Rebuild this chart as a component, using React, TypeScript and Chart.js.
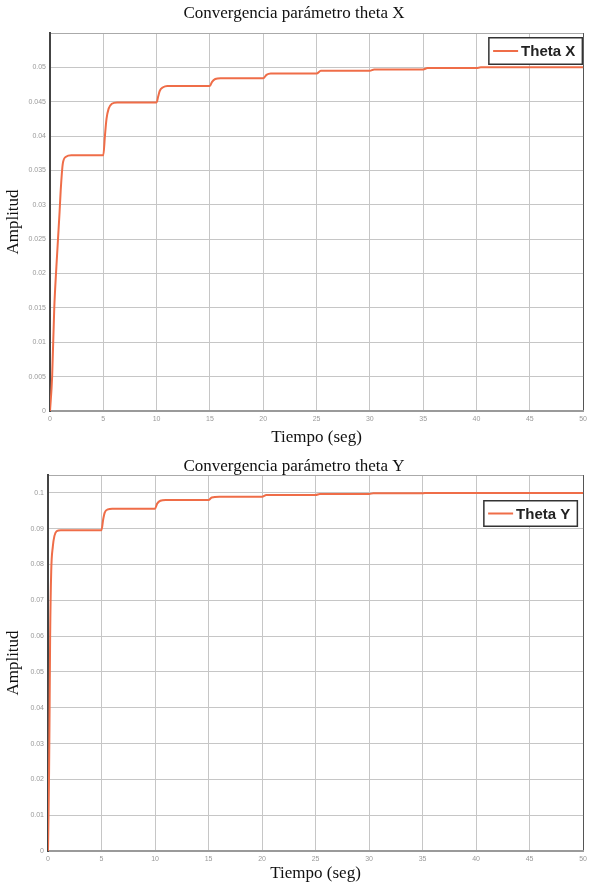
import React, { useEffect, useRef } from 'react';
import { Chart, registerables } from 'chart.js';

Chart.register(...registerables);

// ---- Data ----
const titleTop = 'Convergencia parámetro theta X';
const titleBottom = 'Convergencia parámetro theta Y';
const xAxisLabel = 'Tiempo (seg)';
const yAxisLabel = 'Amplitud';

const xTicksMin = 0;
const xTicksMax = 50;
const xTickStep = 5;

const thetaXTime = [
  0, 0.2, 0.4, 0.6, 0.75, 0.9, 1.0, 1.2, 1.5, 2.0,
  5.0, 5.15, 5.3, 5.5, 5.8, 6.3,
  10.0, 10.15, 10.3, 10.6, 11.0,
  15.0, 15.2, 15.5, 16.0,
  20.0, 20.3, 20.7,
  25.0, 25.4,
  30.0, 30.4,
  35.0, 35.4,
  40.0, 40.4,
  50.0,
];
const thetaXValue = [
  0, 0.005, 0.015, 0.021, 0.025, 0.029, 0.032, 0.036, 0.037, 0.0372,
  0.0372, 0.04, 0.0425, 0.044, 0.0447, 0.0449,
  0.0449, 0.0458, 0.0466, 0.0471, 0.0473,
  0.0473, 0.0479, 0.0483, 0.0484,
  0.0484, 0.0489, 0.0491,
  0.0491, 0.0495,
  0.0495, 0.0497,
  0.0497, 0.0499,
  0.0499, 0.05,
  0.05,
];

const thetaYTime = [
  0, 0.05, 0.1, 0.15, 0.2, 0.3, 0.45, 0.6, 0.8, 1.2,
  5.0, 5.15, 5.3, 5.6, 6.0,
  10.0, 10.2, 10.5, 11.0,
  15.0, 15.3, 16.0,
  20.0, 20.4,
  25.0, 25.4,
  30.0, 30.4,
  35.0, 35.4,
  50.0,
];
const thetaYValue = [
  0, 0.01, 0.022, 0.04, 0.06, 0.078, 0.085, 0.088, 0.0893, 0.0896,
  0.0896, 0.0925, 0.0945, 0.0954, 0.0956,
  0.0956, 0.097, 0.0978, 0.098,
  0.098, 0.0987, 0.0989,
  0.0989, 0.0994,
  0.0994, 0.0997,
  0.0997, 0.0999,
  0.0999, 0.1,
  0.1,
];

const topYMax = 0.055;
const topYStep = 0.005;
const bottomYMax = 0.105;
const bottomYStep = 0.01;

const LINE_COLOR = '#EF6D48';
const SERIF = '"Liberation Serif", "Times New Roman", serif';
const SANS = '"Liberation Sans", Arial, sans-serif';

const legendBox = {
  id: 'legendBox',
  afterDraw(chart: any, _args: any, opts: any) {
    const { ctx, chartArea } = chart;
    const ds = chart.data.datasets[0];
    const w = opts.width;
    const h = opts.height;
    const x = chartArea.right - opts.right - w;
    const y = chartArea.top + opts.top;
    ctx.save();
    ctx.fillStyle = '#ffffff';
    ctx.fillRect(x, y, w, h);
    ctx.strokeStyle = '#333333';
    ctx.lineWidth = 1.5;
    ctx.strokeRect(x + 0.75, y + 0.75, w - 1.5, h - 1.5);
    ctx.strokeStyle = ds.borderColor;
    ctx.lineWidth = 2;
    ctx.beginPath();
    ctx.moveTo(x + 5, y + h / 2);
    ctx.lineTo(x + 30, y + h / 2);
    ctx.stroke();
    ctx.fillStyle = '#222222';
    ctx.font = 'bold 15px ' + SANS;
    ctx.textBaseline = 'middle';
    ctx.textAlign = 'left';
    ctx.fillText(ds.label, x + 33, y + h / 2 + 1);
    ctx.restore();
  },
};

interface PanelProps {
  title: string;
  label: string;
  times: number[];
  values: number[];
  yMax: number;
  yStep: number;
  height: number;
  yWidth: number;
  xHeight: number;
  titlePadTop: number;
  titlePadBottom: number;
  legendTop: number;
  legendRight: number;
  legendHeight: number;
}

function fmt(v: number): string {
  return String(parseFloat(v.toFixed(4)));
}

function Panel(p: PanelProps) {
  const ref = useRef<HTMLCanvasElement | null>(null);
  useEffect(() => {
    if (!ref.current) return;
    const chart = new Chart(ref.current, {
      type: 'line',
      data: {
        datasets: [
          {
            label: p.label,
            data: p.times.map((t, i) => ({ x: t, y: p.values[i] })),
            borderColor: LINE_COLOR,
            backgroundColor: LINE_COLOR,
            borderWidth: 2,
            pointRadius: 0,
            fill: false,
            cubicInterpolationMode: 'monotone',
          } as any,
        ],
      },
      plugins: [legendBox],
      options: {
        animation: false,
        responsive: true,
        maintainAspectRatio: false,
        layout: { padding: { left: 0, right: 3, top: 0, bottom: 0 } },
        plugins: {
          legend: { display: false },
          tooltip: { enabled: false },
          title: {
            display: true,
            text: p.title,
            color: '#111111',
            font: { family: SERIF, size: 17, weight: 'normal', lineHeight: 1 },
            padding: { top: p.titlePadTop, bottom: p.titlePadBottom },
          },
          legendBox: {
            width: 95,
            height: p.legendHeight,
            top: p.legendTop,
            right: p.legendRight,
          },
        } as any,
        scales: {
          x: {
            type: 'linear',
            min: xTicksMin,
            max: xTicksMax,
            ticks: {
              stepSize: xTickStep,
              autoSkip: false,
              maxRotation: 0,
              color: '#999999',
              font: { family: SANS, size: 7 },
              padding: 4,
              callback: (v: any) => String(v),
            },
            grid: {
              drawTicks: false,
              lineWidth: 1,
              color: (c: any) => (c.tick && c.tick.value === xTicksMax ? '#555555' : '#c6c6c6'),
            },
            border: { color: '#9a9a9a', width: 2 },
            title: {
              display: true,
              text: xAxisLabel,
              color: '#111111',
              font: { family: SERIF, size: 17, weight: 'normal', lineHeight: 1 },
              padding: { top: 0, bottom: 2 },
            },
            afterFit: (s: any) => {
              s.height = p.xHeight;
            },
          },
          y: {
            type: 'linear',
            min: 0,
            max: p.yMax,
            ticks: {
              stepSize: p.yStep,
              autoSkip: false,
              color: '#999999',
              font: { family: SANS, size: 7 },
              padding: 4,
              callback: (v: any) => (Math.abs(v - p.yMax) < 1e-9 ? '' : fmt(v)),
            },
            grid: {
              drawTicks: false,
              lineWidth: 1,
              color: (c: any) => (c.tick && Math.abs(c.tick.value - p.yMax) < 1e-9 ? '#aaaaaa' : '#c6c6c6'),
            },
            border: { color: '#444444', width: 2 },
            title: {
              display: true,
              text: yAxisLabel,
              color: '#111111',
              font: { family: SERIF, size: 17, weight: 'normal', lineHeight: 1 },
              padding: { top: 5, bottom: 0 },
            },
            afterFit: (s: any) => {
              s.width = p.yWidth;
            },
          },
        } as any,
      },
    });
    return () => chart.destroy();
  }, []);
  return (
    <div style={{ position: 'relative', width: 591, height: p.height }}>
      <canvas ref={ref} />
    </div>
  );
}

export default function App() {
  return (
    <div style={{ position: 'absolute', left: 0, top: 0, width: 591, height: 884, background: '#ffffff' }}>
      <Panel
        title={titleTop}
        label="Theta X"
        times={thetaXTime}
        values={thetaXValue}
        yMax={topYMax}
        yStep={topYStep}
        height={448}
        yWidth={50}
        xHeight={37}
        titlePadTop={5}
        titlePadBottom={11}
        legendTop={4}
        legendRight={0}
        legendHeight={28}
      />
      <Panel
        title={titleBottom}
        label="Theta Y"
        times={thetaYTime}
        values={thetaYValue}
        yMax={bottomYMax}
        yStep={bottomYStep}
        height={436}
        yWidth={48}
        xHeight={33}
        titlePadTop={10}
        titlePadBottom={0}
        legendTop={25}
        legendRight={5}
        legendHeight={27}
      />
    </div>
  );
}
